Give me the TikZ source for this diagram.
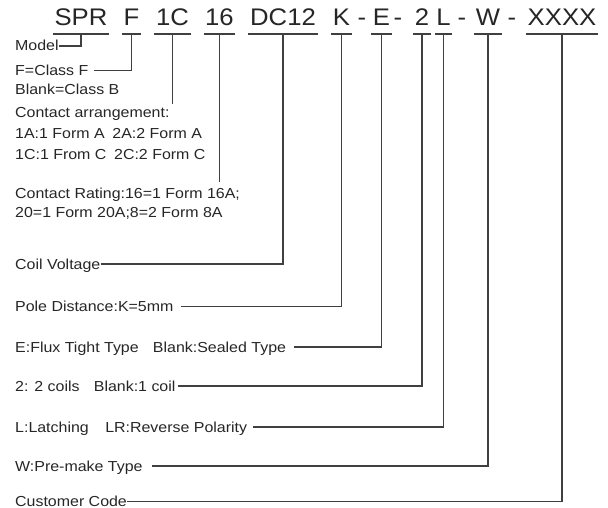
\documentclass[tikz,border=0pt]{standalone}
\usepackage{fontspec}
\setmainfont{Liberation Sans}
\usepackage{graphicx}
\newcommand{\wide}[1]{\scalebox{1.1}[1]{#1}}
\newcommand{\widecode}[1]{\scalebox{1.07}[1]{#1}}

\begin{document}
\begin{tikzpicture}[x=1pt, y=-1pt,
        code/.style={anchor=base, inner xsep=1.5pt, inner ysep=0pt, text=black!85,
            font=\fontsize{24}{26}\selectfont},
        lbl/.style={anchor=base west, inner sep=0pt, text height=10pt, text depth=0pt,
            text=black!85, font=\fontsize{14.5}{17}\selectfont},
        lead/.style={draw=black!75, line width=1.3pt}]
        \useasboundingbox (0,0) rectangle (608,508);

        % part number
        \node[code] (tSPR)  at (81,26)    {\widecode{SPR}};
        \node[code] (tF)    at (131.5,26) {\widecode{F}};
        \node[code] (t1C)   at (172.5,26) {\widecode{1C}};
        \node[code] (t16)   at (219.5,26) {\widecode{16}};
        \node[code] (tDC12) at (283,26)   {\widecode{DC12}};
        \node[code] (tK)    at (341.5,26) {\widecode{K}};
        \node[code] (d1)    at (362,26)   {\widecode{-}};
        \node[code] (tE)    at (381.5,26) {\widecode{E}};
        \node[code] (d2)    at (398,26)   {\widecode{-}};
        \node[code] (t2)    at (422,26)   {\widecode{2}};
        \node[code] (tL)    at (443.5,26) {\widecode{L}};
        \node[code] (d3)    at (462,26)   {\widecode{-}};
        \node[code] (tW)    at (488,26)   {\widecode{W}};
        \node[code] (d4)    at (512,26)   {\widecode{-}};
        \node[code] (tX)    at (562,26)   {\widecode{XXXX}};

        % underlines
        \foreach \n in {SPR,F,1C,16,DC12,K,E,2,L,W,X} {
            \draw[lead] ([yshift=-8pt]t\n.base west) -- ([yshift=-8pt]t\n.base east);
            \coordinate (u\n) at ([yshift=-8pt]t\n.base);
        }

        % descriptions
        \node[lbl] (model)   at (15,51)    {\wide{Model}};
        \node[lbl] (classF)  at (15,75.5)  {\wide{F=Class F}};
        \node[lbl] (classB)  at (15,94.5)  {\wide{Blank=Class B}};
        \node[lbl] (arr)     at (15,118)   {\wide{Contact arrangement:}};
        \node[lbl] (arrA)    at (15,139)   {\wide{1A:1 Form A\hspace{7pt}2A:2 Form A}};
        \node[lbl] (arrC)    at (15,159.5) {\wide{1C:1 From C\hspace{7pt}2C:2 Form C}};
        \node[lbl] (rating)  at (15,198)   {\wide{Contact Rating:16=1 Form 16A;}};
        \node[lbl] (ratingB) at (15,218)   {\wide{20=1 Form 20A;8=2 Form 8A}};
        \node[lbl] (coil)    at (15,269)   {\wide{Coil Voltage}};
        \node[lbl] (pole)    at (15,311.5) {\wide{Pole Distance:K=5mm}};
        \node[lbl] (flux)    at (15,352)   {\wide{E:Flux Tight Type\hspace{13pt}Blank:Sealed Type}};
        \node[lbl] (coils)   at (15,391)   {\wide{2: 2 coils\hspace{13pt}Blank:1 coil}};
        \node[lbl] (latch)   at (15,432)   {\wide{L:Latching\hspace{15pt}LR:Reverse Polarity}};
        \node[lbl] (premake) at (15,471)   {\wide{W:Pre-make Type}};
        \node[lbl] (cust)    at (15,506.5) {\wide{Customer Code}};

        \coordinate (arrEnd)    at (u1C |- 0,104);
        \coordinate (ratingEnd) at (u16 |- 0,182);

        % leaders
        \draw[lead] (model.east) -| (uSPR);
        \draw[lead] ([xshift=5pt]classF.east) -| (uF);
        \draw[lead] (u1C) -- (arrEnd);
        \draw[lead] (u16) -- (ratingEnd);
        \draw[lead] (coil.east) -| (uDC12);
        \draw[lead] ([xshift=7pt]pole.east) -| (uK);
        \draw[lead] ([xshift=8pt]flux.east) -| (uE);
        \draw[lead] ([xshift=2pt]coils.east) -| (u2);
        \draw[lead] ([xshift=6pt]latch.east) -| (uL);
        \draw[lead] ([xshift=9pt]premake.east) -| (uW);
        \draw[lead] (cust.east) -| (uX);
    \end{tikzpicture}
\end{document}
